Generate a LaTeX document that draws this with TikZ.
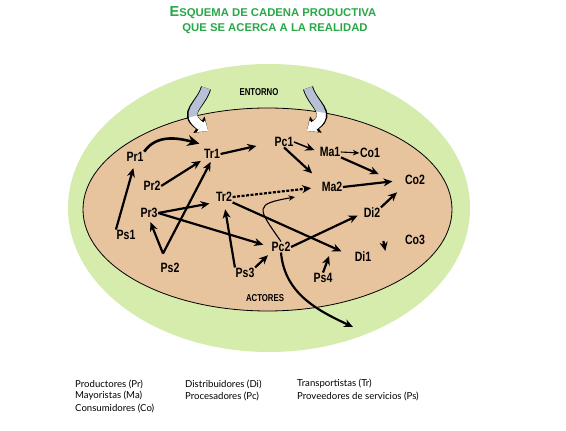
\documentclass[tikz,border=0pt]{standalone}
\usepackage{xcolor}
\usepackage{fontspec}
\setmainfont{Liberation Sans}
\newfontfamily\lblfont{Liberation Sans}[FakeStretch=0.78]
\newfontfamily\legfont{Lato}
\usepackage{tikz}
\usetikzlibrary{arrows.meta}

\definecolor{entorno}{RGB}{214,236,172}
\definecolor{actores}{RGB}{232,196,158}
\definecolor{titgreen}{RGB}{40,168,70}
\definecolor{bluegrey}{RGB}{184,192,214}

% curved block arrow from the environment into the actors
\newcommand\bendarrow[1]{%
  \draw[black, line width=10.4pt,
      -{Triangle[length=11pt,width=20pt,line width=0pt]}] #1;
  \draw[bluegrey, line width=8.6pt,
      -{Triangle[length=8.5pt,width=14pt,line width=0pt]}] #1;
  \begin{scope}
    \clip (267.5,221.5) ellipse [x radius=184.5pt, y radius=101.5pt];
    \draw[white, line width=8.6pt,
        -{Triangle[length=8.5pt,width=14pt,line width=0pt]}] #1;
  \end{scope}}

\begin{document}
\begin{tikzpicture}[x=1pt,y=1pt,
    actor/.style={font=\lblfont\bfseries\fontsize{13.5}{13.5}\selectfont, inner sep=0.5pt},
    zone/.style={font=\lblfont\bfseries\fontsize{10}{10}\selectfont, inner sep=0.5pt},
    flow/.style={line width=2.2pt, -{Stealth[length=9pt,width=8pt]}},
    thinflow/.style={line width=1.1pt, -{Stealth[length=6.5pt,width=5.5pt]}},
    legend/.style={font=\legfont\fontsize{9.6}{9.6}\selectfont, anchor=west, inner sep=0pt}]

\useasboundingbox (0,0) rectangle (566,431);
\fill[white] (0,0) rectangle (566,431);

% title
\node[text = titgreen,
    font = \bfseries\fontsize{11.3}{12}\selectfont] (title1) at (273,418)
    {{\fontsize{14.5}{14}\selectfont E}SQUEMA DE CADENA PRODUCTIVA};
\node[text = titgreen,
    font = \bfseries\fontsize{11.3}{12}\selectfont] (title2) at (275,402)
    {QUE SE ACERCA A LA REALIDAD};

% environment and actors
\fill[entorno] (269,223) ellipse [x radius=201pt, y radius=144pt];
\filldraw[fill = actores,
    draw = black,
    line width = 0.8pt] (267.5,221.5) ellipse [x radius=184.5pt, y radius=101.5pt];

\bendarrow{(206,343) .. controls (201,326) and (182,318) .. (208,300)}
\bendarrow{(308,343) .. controls (313,326) and (332,318) .. (307,300)}

\node[zone] (ent) at (259,339) {ENTORNO};
\node[zone] (act) at (265,133) {ACTORES};

% actors
\node[actor] (Pr1) at (135,274) {Pr1};
\node[actor] (Tr1) at (212,277) {Tr1};
\node[actor] (Pc1) at (284,289) {Pc1};
\node[actor] (Ma1) at (330,279) {Ma1};
\node[actor] (Co1) at (370,278) {Co1};
\node[actor] (Pr2) at (152,245) {Pr2};
\node[actor] (Tr2) at (224,234) {Tr2};
\node[actor] (Ma2) at (332,244) {Ma2};
\node[actor] (Co2) at (415,251) {Co2};
\node[actor] (Pr3) at (149,218) {Pr3};
\node[actor] (Di2) at (372,218) {Di2};
\node[actor] (Ps1) at (126,196) {Ps1};
\node[actor] (Pc2) at (281,184) {Pc2};
\node[actor] (Ps2) at (170,163) {Ps2};
\node[actor] (Ps3) at (245,158) {Ps3};
\node[actor] (Di1) at (363,174) {Di1};
\node[actor] (Co3) at (415,191) {Co3};
\node[actor] (Ps4) at (323,153) {Ps4};

\coordinate (Ps2top) at ([shift={(-7,9)}]Ps2.north);
\coordinate (exit) at (353,104);

% flows
\draw[line width=2.6pt, -{Stealth[length=12pt,width=11pt]}]
    (Pr1.north east) to[out=55,in=165] ([shift={(-4,5)}]Tr1.north west);
\draw[flow, shorten >=18pt] (Tr1.east) -- (Pc1.west);
\draw[flow, shorten >=6pt] (Ps1.north west) -- (Pr1.south);
\draw[flow, shorten >=3pt] (Pr2.east) -- (Tr1.south west);
\draw[flow, shorten >=3pt] (Ps2top) -- (Tr1.south);
\draw[flow, shorten >=4pt] (Ps2top) -- (Pr3.south);
\draw[flow, shorten >=6pt] (Pr3.east) -- (Tr2.south west);
\draw[flow, shorten >=8pt] (Pr3.east) -- (Pc2.west);
\draw[flow, shorten >=7pt] (Ps3.north west) -- (Tr2.south);
\draw[flow, shorten >=4pt] (Ps3.north east) -- (Pc2.south west);
\draw[flow, dashed, dash pattern=on 3pt off 1.5pt, shorten >=10pt] (Tr2.east) -- (Ma2.west);
\draw[thinflow, looseness=2.3] (Pc2.north) to[out=125,in=190] ([shift={(-26,-10)}]Ma2.west);
\draw[flow, line width=1.5pt, shorten >=5pt] (Pc1.east) -- (Ma1.west);
\draw[flow, shorten >=12pt] (Pc1.south) -- (Ma2.north west);
\draw[thinflow] (Ma1.east) -- (Co1.west);
\draw[flow, shorten >=28pt] (Ma1.south east) -- (Co2.south west);
\draw[flow, shorten >=12pt] (Ma2.east) -- (Co2.west);
\draw[flow, shorten >=10pt] (Di2.north east) -- (Co2.south west);
\draw[flow, shorten >=6pt] (Pc2.east) -- (Di2.west);
\draw[flow, shorten >=14pt] (Tr2.south east) -- (Di1.west);
\draw[flow] (Ps4.north) -- ([shift={(-25,1)}]Di1.west);
\draw[flow] ([shift={(-21,-1)}]Co3.west) -- ([shift={(-19,-11)}]Co3.west);
\draw[flow] (Pc2.south) to[out=-85,in=155] (exit);

% legend
\node[legend] (lPr) at (75,47) {Productores (Pr)};
\node[legend] (lMa) at (75,35) {Mayoristas (Ma)};
\node[legend] (lCo) at (75,23) {Consumidores (Co)};
\node[legend] (lDi) at (185,47) {Distribuidores (Di)};
\node[legend] (lPc) at (185,35) {Procesadores (Pc)};
\node[legend] (lTr) at (297,47) {Transportistas (Tr)};
\node[legend] (lPs) at (297,35) {Proveedores de servicios (Ps)};

\end{tikzpicture}
\end{document}
